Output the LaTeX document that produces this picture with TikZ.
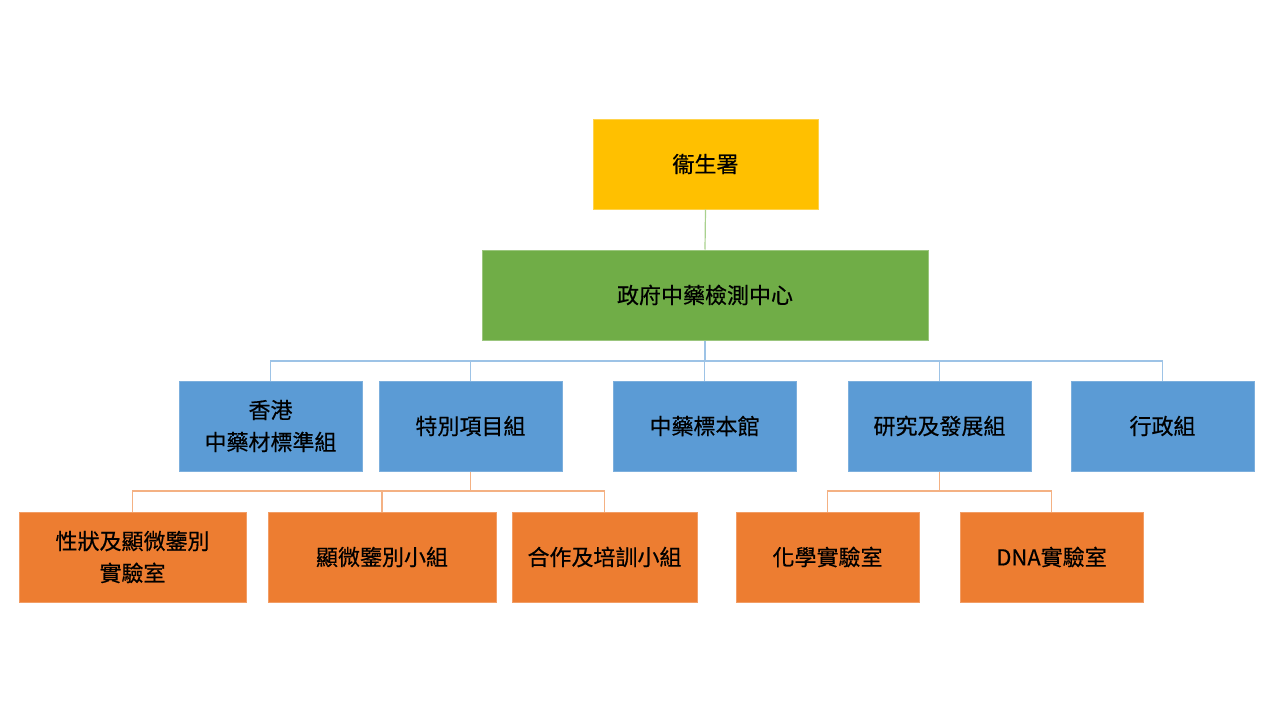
\documentclass[tikz,border=0pt]{standalone}
\usepackage{fontspec}
\setmainfont{Noto Sans CJK TC}[FakeBold=0.5]
\begin{document}
\begin{tikzpicture}[x=1pt,y=-1pt,
  box/.style={rectangle,minimum width=#1,minimum height=90pt,inner sep=0pt,align=center,font=\fontsize{22}{32}\selectfont,text=black},
  yel/.style={box=225pt,fill=cYel,draw=cYel!70!white,line width=1pt},
  grn/.style={box=446pt,fill=cGrn,draw=cGrn!70!white,line width=1pt},
  blu/.style={box=183pt,fill=cBlu,draw=cBlu!80!white,line width=1pt},
  org/.style={fill=cOrg,draw=cOrg!75!white,line width=1pt},
  gline/.style={draw=cGrnL,line width=1.2pt},
  bline/.style={draw=cBluL,line width=1.6pt},
  oline/.style={draw=cOrgL,line width=1.6pt}]
\definecolor{cYel}{HTML}{FFC000}
\definecolor{cGrn}{HTML}{70AD47}
\definecolor{cBlu}{HTML}{5B9BD5}
\definecolor{cOrg}{HTML}{ED7D31}
\definecolor{cGrnL}{HTML}{A9D18E}
\definecolor{cBluL}{HTML}{9DC3E6}
\definecolor{cOrgL}{HTML}{F4B183}
\useasboundingbox (0,0) rectangle (1280,720);
\fill[white] (0,0) rectangle (1280,720);
% top
\node[yel] (dh) at (705.5,164) {衞生署};
\node[grn] (gc) at (705,295) {政府中藥檢測中心};
% blue row
\node[blu] (b1) at (270.5,426) {香港\\中藥材標準組};
\node[blu] (b2) at (470.5,426) {特別項目組};
\node[blu] (b3) at (704.5,426) {中藥標本館};
\node[blu] (b4) at (939.5,426) {研究及發展組};
\node[blu] (b5) at (1162.5,426) {行政組};
% orange row
\node[box=227pt,org] (o1) at (132.5,557) {性狀及顯微鑒別\\實驗室};
\node[box=228pt,org] (o2) at (382,557) {顯微鑒別小組};
\node[box=185pt,org] (o3) at (604.5,557) {合作及培訓小組};
\node[box=183pt,org] (o4) at (827.5,557) {化學實驗室};
\node[box=183pt,org] (o5) at (1051.5,557) {DNA實驗室};
% connectors
\draw[gline] (dh.south) -- (gc.north);
\coordinate (bus) at (0,361);
\draw[bline] (gc.south) -- (gc.south |- bus);
\draw[bline] (b1.north) -- (b1.north |- bus) -- (b5.north |- bus) -- (b5.north);
\foreach \n in {b2,b3,b4} \draw[bline] (\n.north) -- (\n.north |- bus);
\coordinate (obus) at (0,491);
\draw[oline] (b2.south) -- (b2.south |- obus);
\draw[oline] (o1.north) -- (o1.north |- obus) -- (o3.north |- obus) -- (o3.north);
\draw[oline] (o2.north) -- (o2.north |- obus);
\draw[oline] (b4.south) -- (b4.south |- obus);
\draw[oline] (o4.north) -- (o4.north |- obus) -- (o5.north |- obus) -- (o5.north);
\end{tikzpicture}
\end{document}
